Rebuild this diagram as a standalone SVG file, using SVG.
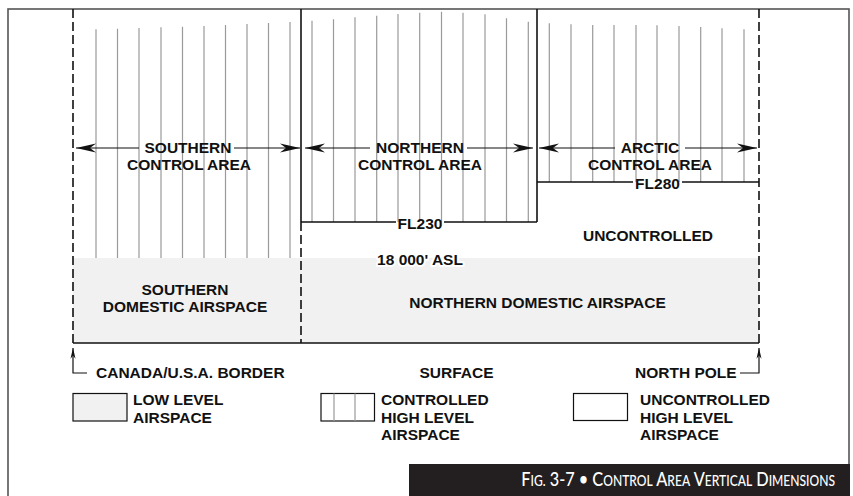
<svg xmlns="http://www.w3.org/2000/svg" width="853" height="496" viewBox="0 0 853 496">
<style>
.t{font-family:"Liberation Sans",Arial,sans-serif;font-weight:bold;font-size:15.5px;fill:#111}
.c{text-anchor:middle}
.h{stroke:#9a9a9a;stroke-width:1.2;fill:none}
.k{stroke:#111;stroke-width:1.6;fill:none}
.d{stroke:#111;stroke-width:1.6;fill:none;stroke-dasharray:9 4}
.a{stroke:#111;stroke-width:1.2;fill:none}
.halo{stroke:#fff;stroke-width:4;paint-order:stroke;stroke-linejoin:round}
.cap{font-family:Lato,"Open Sans","Liberation Sans",sans-serif;fill:#fff;font-size:20px;font-weight:500;text-anchor:end}
.sm{font-size:14.8px}
</style>
<defs>
<marker id="ah" markerUnits="userSpaceOnUse" markerWidth="24" markerHeight="12" viewBox="-21 -6 22 12" refX="0" refY="0" orient="auto-start-reverse">
<path d="M0,0 L-20,-4.5 L-14,0 L-20,4.5 Z" fill="#111"/>
</marker>
<marker id="ah2" markerUnits="userSpaceOnUse" markerWidth="12" markerHeight="24" viewBox="-18 -6 19 12" refX="0" refY="0" orient="auto">
<path d="M0,0 L-17,-4 L-12,0 L-17,4 Z" fill="#111"/>
</marker>
</defs>
<rect x="0" y="0" width="853" height="496" fill="#fff"/>
<rect x="8" y="9" width="841" height="500" fill="none" stroke="#555" stroke-width="1.6"/>

<g id="southern-domestic">
<rect x="73" y="258" width="228" height="85" fill="#f1f1f1"/>
<text class="t c" x="185" y="295">SOUTHERN</text>
<text class="t c" x="185" y="312">DOMESTIC AIRSPACE</text>
</g>
<g id="northern-domestic">
<rect x="301" y="258" width="458" height="85" fill="#f1f1f1"/>
<text class="t c" x="537.5" y="308">NORTHERN DOMESTIC AIRSPACE</text>
</g>

<g id="southern-control-area">
<path class="h" d="M96,29.3V258 M117.5,28.7V258 M139,28V258 M161,27.3V258 M182.5,26.7V258 M204,26V258 M225.5,25V258 M247,24V258 M268.5,23V258 M290,22V258"/>
<text class="t c" x="188" y="153">SOUTHERN</text>
<text class="t c" x="189" y="170">CONTROL AREA</text>
</g>
<g id="northern-control-area">
<path class="h" d="M312,20.7V222 M333.5,19.3V222 M355,17.3V222 M376.7,15.7V222 M398,14V222 M419.7,12.7V222 M441.5,11.7V222 M463,12.7V222 M485,14.3V222 M506.5,18.3V222 M528.3,21.7V222"/>
<text class="t c" x="420" y="153">NORTHERN</text>
<text class="t c" x="420" y="170">CONTROL AREA</text>
</g>
<g id="arctic-control-area">
<path class="h" d="M549.3,23.3V182 M571,24.3V182 M592.7,25V182 M614,25V182 M636,25V182 M657,25.3V182 M679,26V182 M700.7,27V182 M722,28.3V182 M744,29.3V182"/>
<text class="t c" x="650" y="153">ARCTIC</text>
<text class="t c" x="650" y="170">CONTROL AREA</text>
</g>

<g id="connectors">
<path class="d" d="M73,9V343"/>
<path class="d" d="M759,9V343"/>
<path class="k" d="M301,9V222"/>
<path class="d" d="M301,222V343"/>
<path class="k" d="M537,9V222"/>
<path class="k" d="M301,222H396 M444,222H537"/>
<path class="k" d="M537,182H633 M682,182H759"/>
<path class="k" d="M73,343H759"/>
<path class="a" d="M139,148H76" marker-end="url(#ah)"/>
<path class="a" d="M234,148H300" marker-end="url(#ah)"/>
<path class="a" d="M370,148H305" marker-end="url(#ah)"/>
<path class="a" d="M467,148H533" marker-end="url(#ah)"/>
<path class="a" d="M615,148H539" marker-end="url(#ah)"/>
<path class="a" d="M685,148H757" marker-end="url(#ah)"/>
<path class="a" d="M87,373H73V348" marker-end="url(#ah2)"/>
<path class="a" d="M740,373H759V348" marker-end="url(#ah2)"/>
</g>

<g id="fl230"><text class="t c" x="420" y="229">FL230</text></g>
<g id="fl280"><text class="t c" x="657.5" y="188.5">FL280</text></g>
<g id="asl"><text class="t c halo" x="420" y="265">18 000' ASL</text></g>
<g id="uncontrolled"><text class="t c" x="648" y="241">UNCONTROLLED</text></g>

<g id="border-label"><text class="t" x="96" y="378">CANADA/U.S.A. BORDER</text></g>
<g id="surface-label"><text class="t c" x="456.5" y="378">SURFACE</text></g>
<g id="north-pole-label"><text class="t" x="635" y="378">NORTH POLE</text></g>

<g id="legend-low">
<rect x="73" y="393.5" width="54" height="27.5" fill="#f1f1f1" stroke="#111" stroke-width="1.2"/>
<text class="t" x="133" y="405">LOW LEVEL</text>
<text class="t" x="133" y="422.5">AIRSPACE</text>
</g>
<g id="legend-controlled">
<rect x="321" y="393.5" width="53.5" height="27.5" fill="#fff" stroke="#111" stroke-width="1.2"/>
<path class="h" d="M334,393.5V421 M355,393.5V421"/>
<text class="t" x="381" y="405">CONTROLLED</text>
<text class="t" x="381" y="422.5">HIGH LEVEL</text>
<text class="t" x="381" y="440">AIRSPACE</text>
</g>
<g id="legend-uncontrolled">
<rect x="573.5" y="393.5" width="54" height="27" fill="#fff" stroke="#111" stroke-width="1.2"/>
<text class="t" x="640" y="405">UNCONTROLLED</text>
<text class="t" x="640" y="422.5">HIGH LEVEL</text>
<text class="t" x="640" y="440">AIRSPACE</text>
</g>

<g id="caption">
<rect x="409" y="464" width="441" height="32" fill="#231f20"/>
<text class="cap" transform="translate(835,486) scale(0.815,1)">F<tspan class="sm">IG.</tspan> 3-7 • C<tspan class="sm">ONTROL</tspan> A<tspan class="sm">REA</tspan> V<tspan class="sm">ERTICAL</tspan> D<tspan class="sm">IMENSIONS</tspan></text>
</g>
</svg>
